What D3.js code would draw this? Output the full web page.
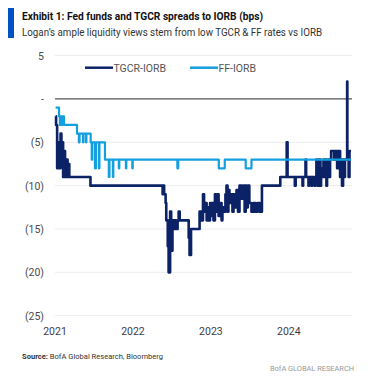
<!DOCTYPE html>
<html>
<head>
<meta charset="utf-8">
<script src="https://cdn.jsdelivr.net/npm/d3@7"></script>
<style>
  body { margin: 0; background: #fff; }
  text { font-family: Roboto, 'Noto Sans', sans-serif; }
</style>
</head>
<body>
<div id="chart"></div>
<script>
'use strict';

// y-axis ticks and their labels
var yTicks = [ 5, 0, -5, -10, -15, -20, -25 ];
var yTickLabels = [ '5', '-', '(5)', '(10)', '(15)', '(20)', '(25)' ];
var xTickYears = [ '2021', '2022', '2023', '2024' ];

// FF-IORB (bps), change points
var ffDates = [
  '2021-01-04', '2021-01-20', '2021-01-24', '2021-01-27', '2021-02-01', '2021-02-04',
  '2021-02-12', '2021-04-14', '2021-04-23', '2021-04-26', '2021-05-12', '2021-05-14',
  '2021-05-26', '2021-05-28', '2021-06-17', '2021-06-22', '2021-06-24', '2021-07-07',
  '2021-07-12', '2021-07-26', '2021-07-28', '2021-08-23', '2021-09-10', '2021-09-13',
  '2021-09-29', '2021-10-01', '2021-10-27', '2021-10-29', '2021-11-29', '2021-12-01',
  '2021-12-29', '2021-12-31', '2022-07-28', '2022-08-01', '2023-02-07', '2023-03-07',
  '2023-06-13', '2023-07-10', '2024-10-18'
];
var ffValues = [
  -1, -2, -3, -2, -3, -2,
  -3, -4, -5, -4, -5, -4,
  -5, -4, -5, -7, -5, -8,
  -5, -8, -5, -7, -9, -7,
  -9, -7, -8, -7, -8, -7,
  -8, -7, -8, -7, -8, -7,
  -8, -7, -7
];

// TGCR-IORB (bps), change points
var tgcrDates = [
  '2021-01-04', '2021-01-06', '2021-01-11', '2021-01-15', '2021-01-20', '2021-01-27',
  '2021-01-31', '2021-02-03', '2021-02-08', '2021-02-12', '2021-02-17', '2021-02-23',
  '2021-03-01', '2021-03-05', '2021-03-09', '2021-06-16', '2022-05-20', '2022-05-24',
  '2022-05-27', '2022-06-03', '2022-06-06', '2022-06-13', '2022-06-17', '2022-06-24',
  '2022-06-29', '2022-07-05', '2022-07-11', '2022-07-15', '2022-07-22', '2022-07-29',
  '2022-08-03', '2022-08-08', '2022-09-19', '2022-09-23', '2022-09-30', '2022-11-09',
  '2022-11-18', '2022-11-25', '2022-11-30', '2022-12-07', '2022-12-12', '2022-12-16',
  '2022-12-21', '2022-12-28', '2023-01-04', '2023-01-09', '2023-01-13', '2023-01-20',
  '2023-01-25', '2023-02-01', '2023-02-06', '2023-02-10', '2023-02-20', '2023-02-24',
  '2023-03-01', '2023-03-10', '2023-03-15', '2023-03-20', '2023-03-24', '2023-03-29',
  '2023-04-05', '2023-04-12', '2023-04-17', '2023-04-21', '2023-05-01', '2023-05-08',
  '2023-05-15', '2023-05-25', '2023-06-01', '2023-06-08', '2023-06-13', '2023-06-16',
  '2023-06-23', '2023-06-30', '2023-07-10', '2023-07-20', '2023-07-28', '2023-08-07',
  '2023-08-17', '2023-08-28', '2023-11-22', '2023-12-22', '2023-12-26', '2024-01-29',
  '2024-02-02', '2024-03-05', '2024-03-08', '2024-03-19', '2024-03-22', '2024-04-02',
  '2024-04-05', '2024-04-16', '2024-04-19', '2024-04-30', '2024-05-03', '2024-05-09',
  '2024-05-14', '2024-05-23', '2024-05-28', '2024-05-31', '2024-06-06', '2024-06-11',
  '2024-06-14', '2024-06-20', '2024-06-25', '2024-06-28', '2024-07-03', '2024-07-08',
  '2024-07-12', '2024-07-17', '2024-07-31', '2024-08-05', '2024-08-14', '2024-08-19',
  '2024-08-28', '2024-09-03', '2024-09-06', '2024-09-11', '2024-09-16', '2024-09-20',
  '2024-09-30', '2024-10-01', '2024-10-07', '2024-10-11', '2024-10-18'
];
var tgcrValues = [
  -2, -3, -8, -5, -8, -4,
  -7, -5, -9, -6, -9, -7,
  -9, -7.5, -9, -10, -11, -10,
  -11, -12, -14, -17, -20, -13,
  -17.5, -14, -15, -14, -15, -14,
  -13, -14, -16, -18, -15, -13,
  -14, -11, -13, -12, -14, -12.5,
  -14, -12, -13.5, -12, -14, -11,
  -13, -11, -13.5, -12, -14, -12.5,
  -13, -11, -10, -13, -10.5, -12,
  -11, -13, -11, -12.5, -10.5, -13,
  -10, -11.5, -10, -13, -10, -12.5,
  -10, -12, -13, -12, -13, -12,
  -13, -10, -9, -5, -9, -10,
  -9, -10, -9, -7, -9, -10,
  -9, -10, -9, -10, -9, -7,
  -10, -7, -10, -8, -9, -7,
  -9, -7, -10, -8, -7, -9,
  -7, -6, -7, -6, -8, -6,
  -9, -7, -10, -7, -9, -7,
  2, -6, -9, -6, -6
];

var lineSets = {
  tgcr: { label: 'TGCR-IORB', color: '#0b2266', width: 2.6, dates: tgcrDates, values: tgcrValues },
  ff: { label: 'FF-IORB', color: '#14a0de', width: 2.2, dates: ffDates, values: ffValues }
};

var parseDate = d3.timeParse( '%Y-%m-%d' );

function toPoints( set ) {
  return set.dates.map( function( d, i ) {
    return { x: parseDate( d ), y: set.values[i] };
  } );
}

var svg = d3.select( '#chart' )
  .append( 'svg' )
    .attr( 'width', 385 )
    .attr( 'height', 381 );

// header
svg.append( 'rect' )
  .attr( 'x', 8 ).attr( 'y', 8 )
  .attr( 'width', 6 ).attr( 'height', 30 )
  .attr( 'fill', '#0052c2' );

svg.append( 'text' )
  .attr( 'x', 22 ).attr( 'y', 20 )
  .attr( 'font-size', '10.8px' )
  .attr( 'font-weight', 'bold' )
  .attr( 'fill', '#111' )
  .attr( 'textLength', 241 )
  .attr( 'lengthAdjust', 'spacingAndGlyphs' )
  .text( 'Exhibit 1: Fed funds and TGCR spreads to IORB (bps)' );

svg.append( 'text' )
  .attr( 'x', 22 ).attr( 'y', 36 )
  .attr( 'font-size', '10.8px' )
  .attr( 'fill', '#333' )
  .attr( 'textLength', 300 )
  .attr( 'lengthAdjust', 'spacingAndGlyphs' )
  .text( 'Logan\u2019s ample liquidity views stem from low TGCR & FF rates vs IORB' );

// scales
var x = d3.scaleTime()
  .domain( [ new Date( 2021, 0, 1 ), new Date( 2025, 0, 1 ) ] )
  .range( [ 55, 367 ] );

var y = d3.scaleLinear()
  .domain( [ -25, 5 ] )
  .range( [ 315.7, 55.6 ] );

var plotRight = 352;

// gridlines
svg.append( 'g' )
  .selectAll( 'line' )
  .data( yTicks )
  .join( 'line' )
    .attr( 'x1', 55 )
    .attr( 'x2', plotRight )
    .attr( 'y1', function( d ) { return y( d ); } )
    .attr( 'y2', function( d ) { return y( d ); } )
    .attr( 'stroke', function( d ) { return d === 0 ? '#555' : '#ececec' } )
    .attr( 'stroke-width', function( d ) { return d === 0 ? 1.2 : 1 } );

// y labels
svg.append( 'g' )
  .selectAll( 'text' )
  .data( yTicks )
  .join( 'text' )
    .attr( 'x', 44 )
    .attr( 'y', function( d ) { return y( d ) + 4; } )
    .attr( 'text-anchor', 'end' )
    .attr( 'font-size', '10.5px' )
    .attr( 'fill', '#4a4a4a' )
    .text( function( d, i ) { return yTickLabels[i]; } );

// x labels
svg.append( 'g' )
  .selectAll( 'text' )
  .data( xTickYears )
  .join( 'text' )
    .attr( 'x', function( d ) { return x( parseDate( d + '-01-01' ) ); } )
    .attr( 'y', 334.5 )
    .attr( 'text-anchor', 'middle' )
    .attr( 'font-size', '10.5px' )
    .attr( 'fill', '#3d3d4a' )
    .text( function( d ) { return d; } );

// lines
var line = d3.line()
  .curve( d3.curveStepAfter )
  .x( function( d ) { return x( d.x ); } )
  .y( function( d ) { return y( d.y ); } );

for ( var key in lineSets ) {
  svg.append( 'path' )
    .attr( 'd', line( toPoints( lineSets[key] ) ) )
    .attr( 'fill', 'none' )
    .attr( 'stroke', lineSets[key].color )
    .attr( 'stroke-width', lineSets[key].width )
    .attr( 'stroke-linejoin', 'round' );
}

// legend
var legendPositions = [ [ 85, 67.7 ], [ 190, 67.7 ] ];
var i = 0;
for ( var key in lineSets ) {
  var pos = legendPositions[i++];
  svg.append( 'line' )
    .attr( 'x1', pos[0] )
    .attr( 'x2', pos[0] + 28 )
    .attr( 'y1', pos[1] )
    .attr( 'y2', pos[1] )
    .attr( 'stroke', lineSets[key].color )
    .attr( 'stroke-width', 2.5 );

  svg.append( 'text' )
    .attr( 'x', pos[0] + 28.5 )
    .attr( 'y', pos[1] + 3.8 )
    .attr( 'font-size', '10.5px' )
    .attr( 'fill', '#555' )
    .text( lineSets[key].label );
}

// footer
var source = svg.append( 'text' )
  .attr( 'x', 22 ).attr( 'y', 359 )
  .attr( 'font-size', '8px' )
  .attr( 'fill', '#333' )
  .attr( 'textLength', 141 )
  .attr( 'lengthAdjust', 'spacingAndGlyphs' );
source.append( 'tspan' ).attr( 'font-weight', 'bold' ).text( 'Source:' );
source.append( 'tspan' ).text( ' BofA Global Research, Bloomberg' );

svg.append( 'text' )
  .attr( 'x', 270 ).attr( 'y', 371 )
  .attr( 'font-size', '8px' )
  .attr( 'fill', '#999' )
  .attr( 'textLength', 84 )
  .attr( 'lengthAdjust', 'spacingAndGlyphs' )
  .text( 'BofA GLOBAL RESEARCH' );
</script>
</body>
</html>
